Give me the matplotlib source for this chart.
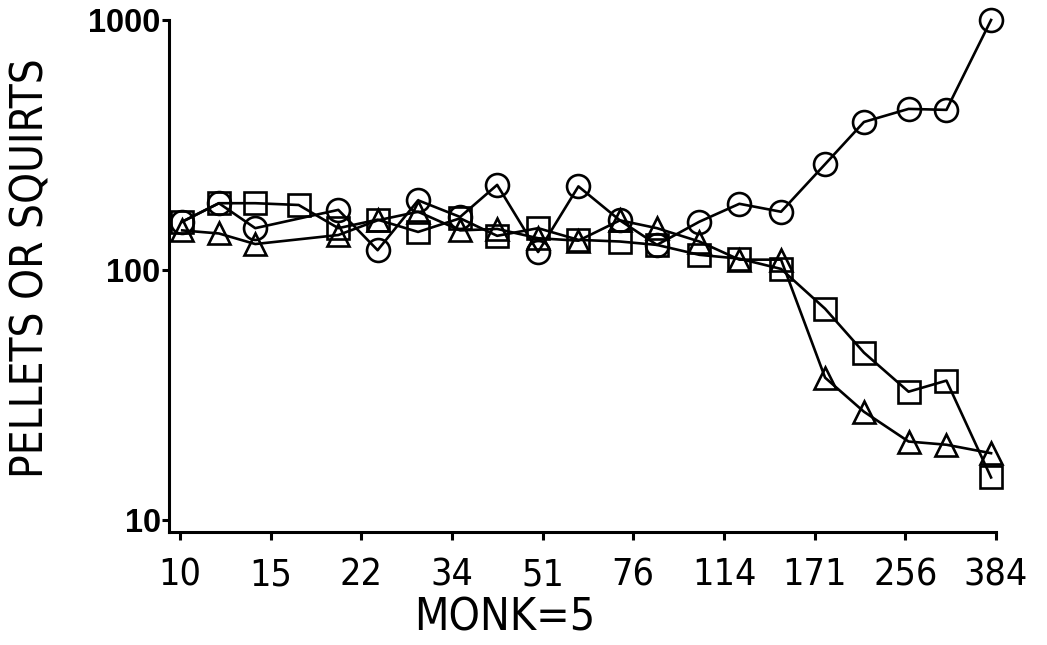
import numpy as np
import matplotlib
matplotlib.use('Agg')
import matplotlib.pyplot as plt
from matplotlib import font_manager as fm

# session sizes (log spaced, factor ~1.2 between sessions)
sizes = [10.1, 11.9, 14.0, 17.0, 20.3, 24.2, 29.0, 35.0, 41.3, 49.6, 59.4,
         71.5, 84.4, 102, 122, 147, 179, 213, 260, 308, 376]

# nan = no observation at that size
circles = [156, 185, 147, np.nan, 174, 120, 190, 163, 219, 118, 216,
           158, 126, 156, 184, 171, 265, 391, 441, 437, 1000]
squares = [156, 185, 185, 182, 147, 159, 142, 161, 137, 147, 132,
           130, 126, 115, 111, 101, 70, 46.7, 32.6, 36.1, 14.8]
triangles = [144, 140, 127, np.nan, 138, 158, 171, 144, 146, 134, 131,
             158, 147, 130, 110, 110, 37.1, 27.1, 20.6, 20.0, 18.5]

tick_vals = [10, 15, 22.5, 33.75, 50.6, 75.9, 113.9, 170.9, 256.3, 384.4]
tick_labels = ['10', '15', '22', '34', '51', '76', '114', '171', '256', '384']


def narrow_font():
    """first condensed/narrow regular face available, else None"""
    for f in fm.fontManager.ttflist:
        stretch = str(f.stretch).lower()
        narrowish = ('narrow' in f.name.lower() or 'condensed' in f.name.lower()
                     or 'condensed' in stretch or stretch in ('500', '600', '700'))
        regular = str(f.weight).lower() in ('400', 'normal', 'regular', '500', 'medium')
        if narrowish and regular and f.style == 'normal':
            return f.fname
    return None


nf = narrow_font()
if nf:
    lab_font = fm.FontProperties(fname=nf)
    scale = 1.0
else:
    lab_font = fm.FontProperties(family='Liberation Sans')
    scale = 0.85

fig = plt.figure(figsize=(10.47, 6.45), dpi=100)
ax = fig.add_axes([169 / 1047, 113 / 645, 827 / 1047, 512 / 645])

x = np.array(sizes)
for vals, m, ms in [(circles, 'o', 16.5), (squares, 's', 15.5), (triangles, '^', 15.5)]:
    y = np.array(vals, dtype=float)
    ok = np.isfinite(y)
    ax.plot(x[ok], y[ok], color='black', lw=1.9, marker=m, ms=ms,
            mfc='none', mec='black', mew=1.9, clip_on=False)

ax.set_xscale('log')
ax.set_yscale('log')
ax.set_xlim(9.52, 384.4)
ax.set_ylim(10 ** 0.952, 1000)

ax.spines['top'].set_visible(False)
ax.spines['right'].set_visible(False)
for s in ('left', 'bottom'):
    ax.spines[s].set_linewidth(2.2)

ax.set_xticks(tick_vals)
ax.set_xticklabels(tick_labels, fontproperties=lab_font)
for t in ax.get_xticklabels():
    t.set_fontsize(27 * scale)
ax.xaxis.set_minor_locator(matplotlib.ticker.NullLocator())
ax.tick_params(axis='x', direction='out', length=6, width=2.2, pad=12)

ax.set_yticks([10, 100, 1000])
ax.set_yticklabels(['10', '100', '1000'], family=['Liberation Sans', 'DejaVu Sans'],
                   fontweight='bold', fontsize=23.5)
ax.yaxis.set_minor_locator(matplotlib.ticker.NullLocator())
ax.tick_params(axis='y', direction='out', length=5, width=2.2, pad=1)

yl = fig.text(31 / 1047, 1 - 268 / 645, 'PELLETS OR SQUIRTS', fontproperties=lab_font,
              rotation=90, ha='center', va='center')
yl.set_fontsize(31.5 * scale)
xl = fig.text(505 / 1047, 1 - 618 / 645, 'MONK=5', fontproperties=lab_font,
              ha='center', va='center')
xl.set_fontsize(32 * scale)

fig.savefig('out.png', dpi=100)
